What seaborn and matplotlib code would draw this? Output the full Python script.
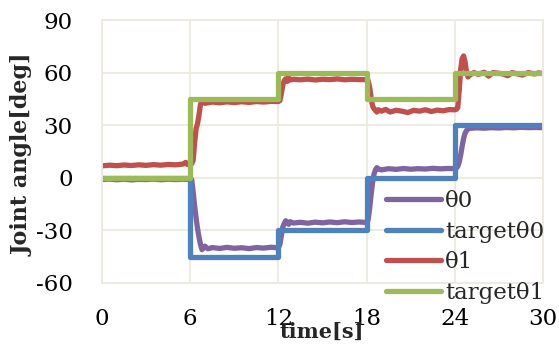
import matplotlib
matplotlib.use("Agg")
import matplotlib.pyplot as plt
import seaborn as sns
import pandas as pd

# ---- data ----
target_t = [0, 6, 6, 12, 12, 18, 18, 24, 24, 30]
target_theta0 = [0, 0, -45, -45, -30, -30, 0, 0, 30, 30]
target_theta1 = [0, 0, 45, 45, 60, 60, 45, 45, 60, 60]

theta0_t = [0, 0.5, 1, 1.5, 2, 2.5, 3, 3.5, 4, 4.5, 5, 5.5, 6.0, 6.1, 6.2, 6.3, 6.4,
            6.5, 6.6, 6.7, 6.8, 6.9, 7.0, 7.2, 7.5, 8, 8.5, 9, 9.5, 10, 10.5, 11,
            11.5, 12.0, 12.1, 12.2, 12.3, 12.4, 12.5, 12.6, 12.7, 12.8, 13, 13.5,
            14, 14.5, 15, 15.5, 16, 16.5, 17, 17.5, 18.0, 18.1, 18.2, 18.3, 18.4,
            18.5, 18.6, 18.7, 18.8, 19, 19.5, 20, 20.5, 21, 21.5, 22, 22.5, 23,
            23.5, 24.0, 24.1, 24.2, 24.3, 24.4, 24.5, 24.6, 24.7, 24.8, 24.9, 25.0,
            25.5, 26, 26.5, 27, 27.5, 28, 28.5, 29, 29.5, 30]
theta0 = [-1.0, -0.7, -1.1, -0.8, -1.2, -0.9, -1.0, -0.7, -1.1, -0.8, -1.0, -0.8, -0.9,
          -1.0, -8, -16, -23, -29, -34, -38, -41, -40, -39, -40.5, -39.8, -40.3,
          -39.7, -40.2, -39.9, -40.4, -39.8, -40.1, -39.6, -40.0, -38, -33, -28,
          -26, -24.5, -25.5, -26.5, -25.0, -25.8, -25.4, -25.9, -25.3, -25.7,
          -25.2, -25.6, -25.1, -25.5, -25.2, -25.5, -24, -18, -10, -3, 2, 4.5,
          5.8, 5.0, 4.5, 5.2, 4.8, 5.3, 4.9, 5.2, 5.0, 5.4, 5.1, 5.3, 5.3, 5.5,
          6.5, 9, 13, 18, 22.5, 25.5, 27, 27.8, 28.2, 28.5, 28.3, 28.6, 28.4,
          28.7, 28.5, 28.8, 28.6, 28.7, 28.6]

theta1_t = [0, 0.5, 1, 1.5, 2, 2.5, 3, 3.5, 4, 4.5, 5, 5.5, 5.7, 5.8, 6.0, 6.1, 6.2,
            6.3, 6.4, 6.5, 6.6, 6.7, 6.8, 7, 7.5, 8, 8.5, 9, 9.5, 10, 10.5, 11,
            11.5, 12.0, 12.1, 12.2, 12.3, 12.4, 12.5, 12.6, 12.7, 12.8, 13, 13.5,
            14, 14.5, 15, 15.5, 16, 16.5, 17, 17.5, 18.0, 18.1, 18.2, 18.3, 18.4,
            18.5, 18.6, 18.7, 18.8, 19, 19.3, 19.6, 20, 20.4, 20.8, 21.2, 21.6,
            22, 22.4, 22.8, 23.2, 23.6, 24.0, 24.1, 24.2, 24.3, 24.4, 24.5, 24.6,
            24.7, 24.8, 24.9, 25.0, 25.3, 25.6, 26.0, 26.3, 26.6, 27.0, 27.3,
            27.6, 27.9, 28.2, 28.6, 29.0, 29.4, 29.7, 30]
theta1 = [6.8, 7.2, 6.9, 7.3, 7.0, 7.4, 7.1, 7.5, 7.2, 7.6, 7.4, 7.8, 8.8, 7.6, 7.8,
          8.0, 10, 20, 28, 31, 36, 42, 43.5, 42.5, 43.2, 42.8, 43.3, 42.9, 43.4,
          43.0, 43.5, 43.2, 43.6, 43.5, 44, 48, 53, 55.5, 56.5, 55.0, 57.0, 55.8,
          56.2, 55.9, 56.3, 55.8, 56.2, 56.0, 56.4, 55.9, 56.2, 56.0, 56.0, 55.5,
          52, 46, 41, 39.5, 38.5, 37.5, 38.8, 38.0, 39.0, 37.5, 38.5, 38.0, 37.2,
          38.5, 38.0, 38.8, 37.8, 38.6, 38.2, 38.9, 38.8, 39.0, 40, 50, 62, 68,
          69.5, 66, 60, 57.5, 58.5, 60.0, 59.0, 60.2, 58.0, 60.0, 59.6, 59.2,
          58.2, 60.0, 59.4, 58.6, 60.0, 59.2, 59.8, 59.5]

series = [
    ("θ0", theta0_t, theta0, "#8064A2"),
    ("targetθ0", target_t, target_theta0, "#4F81BD"),
    ("θ1", theta1_t, theta1, "#C0504D"),
    ("targetθ1", target_t, target_theta1, "#9BBB59"),
]

sns.set_theme(style="white")
plt.rcParams["font.family"] = ["DejaVu Serif"]
plt.rcParams["axes.unicode_minus"] = False
SERIF = "DejaVu Serif"

fig = plt.figure(figsize=(5.59, 3.54), dpi=100)
ax = fig.add_axes([0.1825, 0.2006, 0.7889, 0.7429])

for name, t, v, color in series:
    df = pd.DataFrame({"time": t, "angle": v})
    sns.lineplot(data=df, x="time", y="angle", ax=ax, color=color, linewidth=3.8,
                 estimator=None, sort=False, label=name)

grid_color = "#EDE9DF"
ax.set_xlim(0, 30)
ax.set_ylim(-60, 90)
ax.set_xticks([0, 6, 12, 18, 24, 30])
ax.set_yticks([-60, -30, 0, 30, 60, 90])
ax.grid(True, color=grid_color, linewidth=1.3)
ax.set_axisbelow(True)
for s in ax.spines.values():
    s.set_visible(True)
    s.set_color(grid_color)
    s.set_linewidth(1.3)
ax.tick_params(axis="both", length=0, labelsize=16.5, colors="black")
ax.tick_params(axis="x", pad=18)
ax.tick_params(axis="y", pad=21)
for lbl in ax.get_xticklabels() + ax.get_yticklabels():
    lbl.set_family(SERIF)

ax.set_xlabel("time[s]", fontsize=15, fontweight="bold", family=SERIF)
ax.set_ylabel("Joint angle[deg]", fontsize=16, fontweight="bold", family=SERIF)
ax.xaxis.set_label_coords(322 / 559, 1 - 322 / 354, transform=fig.transFigure)
ax.yaxis.set_label_coords(34 / 559, 1 - 155 / 354, transform=fig.transFigure)

leg = ax.legend(loc="upper left", bbox_to_anchor=(0.69, 0.463),
                bbox_transform=fig.transFigure, frameon=False,
                prop={"family": SERIF, "size": 16.5}, handlelength=2.4,
                handletextpad=0.2, labelspacing=0.37, borderpad=0, borderaxespad=0)
for txt in leg.get_texts():
    txt.set_fontfamily(SERIF)
    txt.set_fontsize(16.5)

fig.savefig("out.png", dpi=100)
